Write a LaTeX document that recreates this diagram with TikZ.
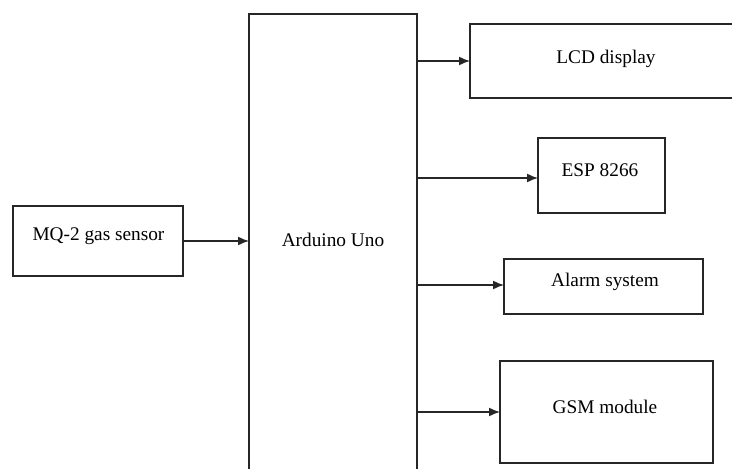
\documentclass[tikz,border=0pt]{standalone}
\usepackage{fontspec}
\setmainfont{Liberation Serif}
\usetikzlibrary{arrows.meta}
\begin{document}
\begin{tikzpicture}[x=1pt,y=-1pt,
  blockbox/.style={draw=black!85,line width=1.5pt,rectangle,inner sep=0pt,outer sep=0pt},
  lbl/.style={inner sep=0pt,anchor=base,font=\fontsize{19.3}{22}\selectfont},
  arr/.style={draw=black!85,line width=1.5pt,-{Latex[length=11pt,width=9pt]}}]
\useasboundingbox[fill=white] (0,0) rectangle (732,469);
% boxes
\node[blockbox,minimum width=170,minimum height=70] (mq) at (98,241) {};
\node[lbl] (mqt) at (98.5,240.5) {MQ-2 gas sensor};
\node[blockbox,minimum width=168,minimum height=506] (ard) at (333,267) {};
\node[lbl] (ardt) at (333,246) {Arduino Uno};
\node[blockbox,minimum width=272,minimum height=74] (lcd) at (606,61) {};
\node[lbl] (lcdt) at (606,63) {LCD display};
\node[blockbox,minimum width=127,minimum height=75] (esp) at (601.5,175.5) {};
\node[lbl] (espt) at (600,176) {ESP 8266};
\node[blockbox,minimum width=199,minimum height=55] (alarm) at (603.5,286.5) {};
\node[lbl] (alarmt) at (605,286) {Alarm system};
\node[blockbox,minimum width=213,minimum height=102] (gsm) at (606.5,412) {};
\node[lbl] (gsmt) at (605,413) {GSM module};
% connectors
\draw[arr] (mq.east) -- (mq.east -| ard.west);
\draw[arr] (ard.east |- lcd.west) -- (lcd.west);
\draw[arr] (ard.east |- 0,178) coordinate (e1) -- (esp.west |- e1);
\draw[arr] (ard.east |- 0,285) coordinate (e2) -- (alarm.west |- e2);
\draw[arr] (ard.east |- gsm.west) -- (gsm.west);
\end{tikzpicture}
\end{document}
